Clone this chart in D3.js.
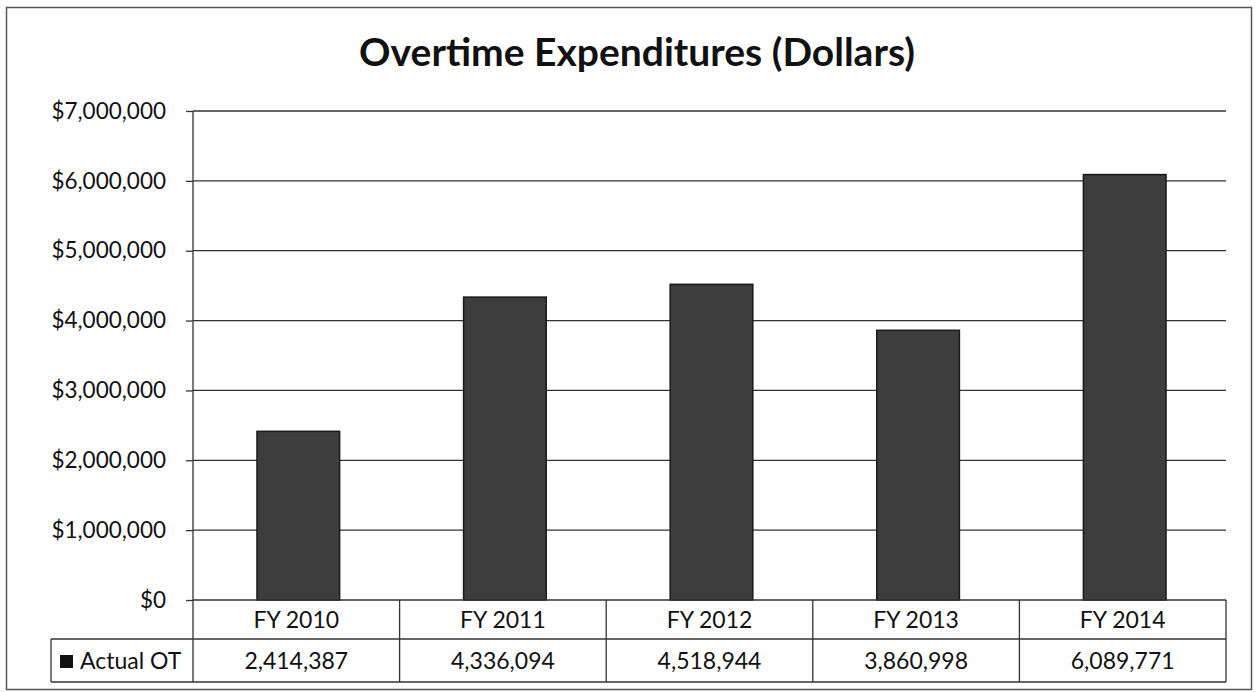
<!DOCTYPE html>
<html>
<head>
<meta charset="utf-8">
<script src="https://cdn.jsdelivr.net/npm/d3@7"></script>
<style>
    body { margin: 0; background: #fff; }
    text { font-family: Lato, "Open Sans", sans-serif; fill: #111; }
    .title { font-size: 39px; font-weight: bold; }
    .axis text { font-size: 22.5px; }
    .cell { font-size: 23px; }
</style>
</head>
<body>
<script>

const categories = ["FY 2010", "FY 2011", "FY 2012", "FY 2013", "FY 2014"];
const actualOT = [2414387, 4336094, 4518944, 3860998, 6089771];
const yTicks = [0, 1000000, 2000000, 3000000, 4000000, 5000000, 6000000, 7000000];
const seriesName = "Actual OT";
const chartTitle = "Overtime Expenditures (Dollars)";

const dim = { width: 1257, height: 692 };
const plot = { left: 193, right: 1226, top: 111, bottom: 600 };
const table = { left: 51, row1: 639, row2: 682 };

const svg = d3.select("body").append("svg")
    .attr("width", dim.width)
    .attr("height", dim.height);

// outer frame
svg.append("rect")
    .attr("x", 6.5).attr("y", 7.5)
    .attr("width", 1245).attr("height", 682)
    .attr("fill", "none")
    .attr("stroke", "#555")
    .attr("stroke-width", 1.5);

svg.append("text")
    .attr("class", "title")
    .attr("x", 637)
    .attr("y", 66)
    .attr("text-anchor", "middle")
    .text(chartTitle);

const x = d3.scaleBand()
    .domain(categories)
    .range([plot.left, plot.right])
    .paddingInner(0)
    .paddingOuter(0);

const y = d3.scaleLinear()
    .domain([0, 7000000])
    .range([plot.bottom, plot.top]);

// gridlines
svg.append("g")
    .selectAll("line")
    .data(yTicks.filter(d => d !== 0))
    .join("line")
    .attr("x1", plot.left)
    .attr("x2", plot.right)
    .attr("y1", d => y(d))
    .attr("y2", d => y(d))
    .attr("stroke", "#333")
    .attr("stroke-width", 1.3);

// y axis
const yAxis = d3.axisLeft(y)
    .tickValues(yTicks)
    .tickFormat(d => "$" + d3.format(",")(d))
    .tickSize(7)
    .tickPadding(20);

svg.append("g")
    .attr("class", "axis")
    .attr("transform", `translate(${ plot.left }, 0)`)
    .call(yAxis)
    .call(g => g.select(".domain").remove())
    .call(g => g.selectAll(".tick line").attr("stroke", "#333").attr("stroke-width", 1.3));

svg.append("line")
    .attr("x1", plot.left).attr("x2", plot.left)
    .attr("y1", plot.top).attr("y2", table.row2)
    .attr("stroke", "#333").attr("stroke-width", 1.3);

// bars
const barW = x.bandwidth() * 0.4;
svg.append("g")
    .selectAll("rect")
    .data(actualOT)
    .join("rect")
    .attr("x", (d, i) => x(categories[i]) + x.bandwidth() / 2 - barW / 2 + 2)
    .attr("y", d => y(d))
    .attr("width", barW)
    .attr("height", d => y(0) - y(d))
    .attr("fill", "#3d3d3d")
    .attr("stroke", "#1a1a1a")
    .attr("stroke-width", 1.5);

// data table
const tbl = svg.append("g")
    .attr("fill", "none")
    .attr("stroke", "#333")
    .attr("stroke-width", 1.3);

tbl.append("line")
    .attr("x1", plot.left).attr("x2", plot.right)
    .attr("y1", plot.bottom).attr("y2", plot.bottom);
tbl.append("line")
    .attr("x1", table.left).attr("x2", plot.right)
    .attr("y1", table.row1).attr("y2", table.row1);
tbl.append("line")
    .attr("x1", table.left).attr("x2", plot.right)
    .attr("y1", table.row2).attr("y2", table.row2);
tbl.append("line")
    .attr("x1", table.left).attr("x2", table.left)
    .attr("y1", table.row1).attr("y2", table.row2);
tbl.selectAll(".sep")
    .data(categories)
    .join("line")
    .attr("x1", d => x(d) + x.bandwidth())
    .attr("x2", d => x(d) + x.bandwidth())
    .attr("y1", plot.bottom)
    .attr("y2", table.row2);

svg.append("g")
    .selectAll("text")
    .data(categories)
    .join("text")
    .attr("class", "cell")
    .attr("x", d => x(d) + x.bandwidth() / 2)
    .attr("y", 628)
    .attr("text-anchor", "middle")
    .text(d => d);

svg.append("g")
    .selectAll("text")
    .data(actualOT)
    .join("text")
    .attr("class", "cell")
    .attr("x", (d, i) => x(categories[i]) + x.bandwidth() / 2)
    .attr("y", 669)
    .attr("text-anchor", "middle")
    .text(d => d3.format(",")(d));

// legend key
svg.append("rect")
    .attr("x", 60).attr("y", 655)
    .attr("width", 13).attr("height", 13)
    .attr("fill", "#111");
svg.append("text")
    .attr("class", "cell")
    .attr("x", 80)
    .attr("y", 669)
    .text(seriesName);

</script>
</body>
</html>
